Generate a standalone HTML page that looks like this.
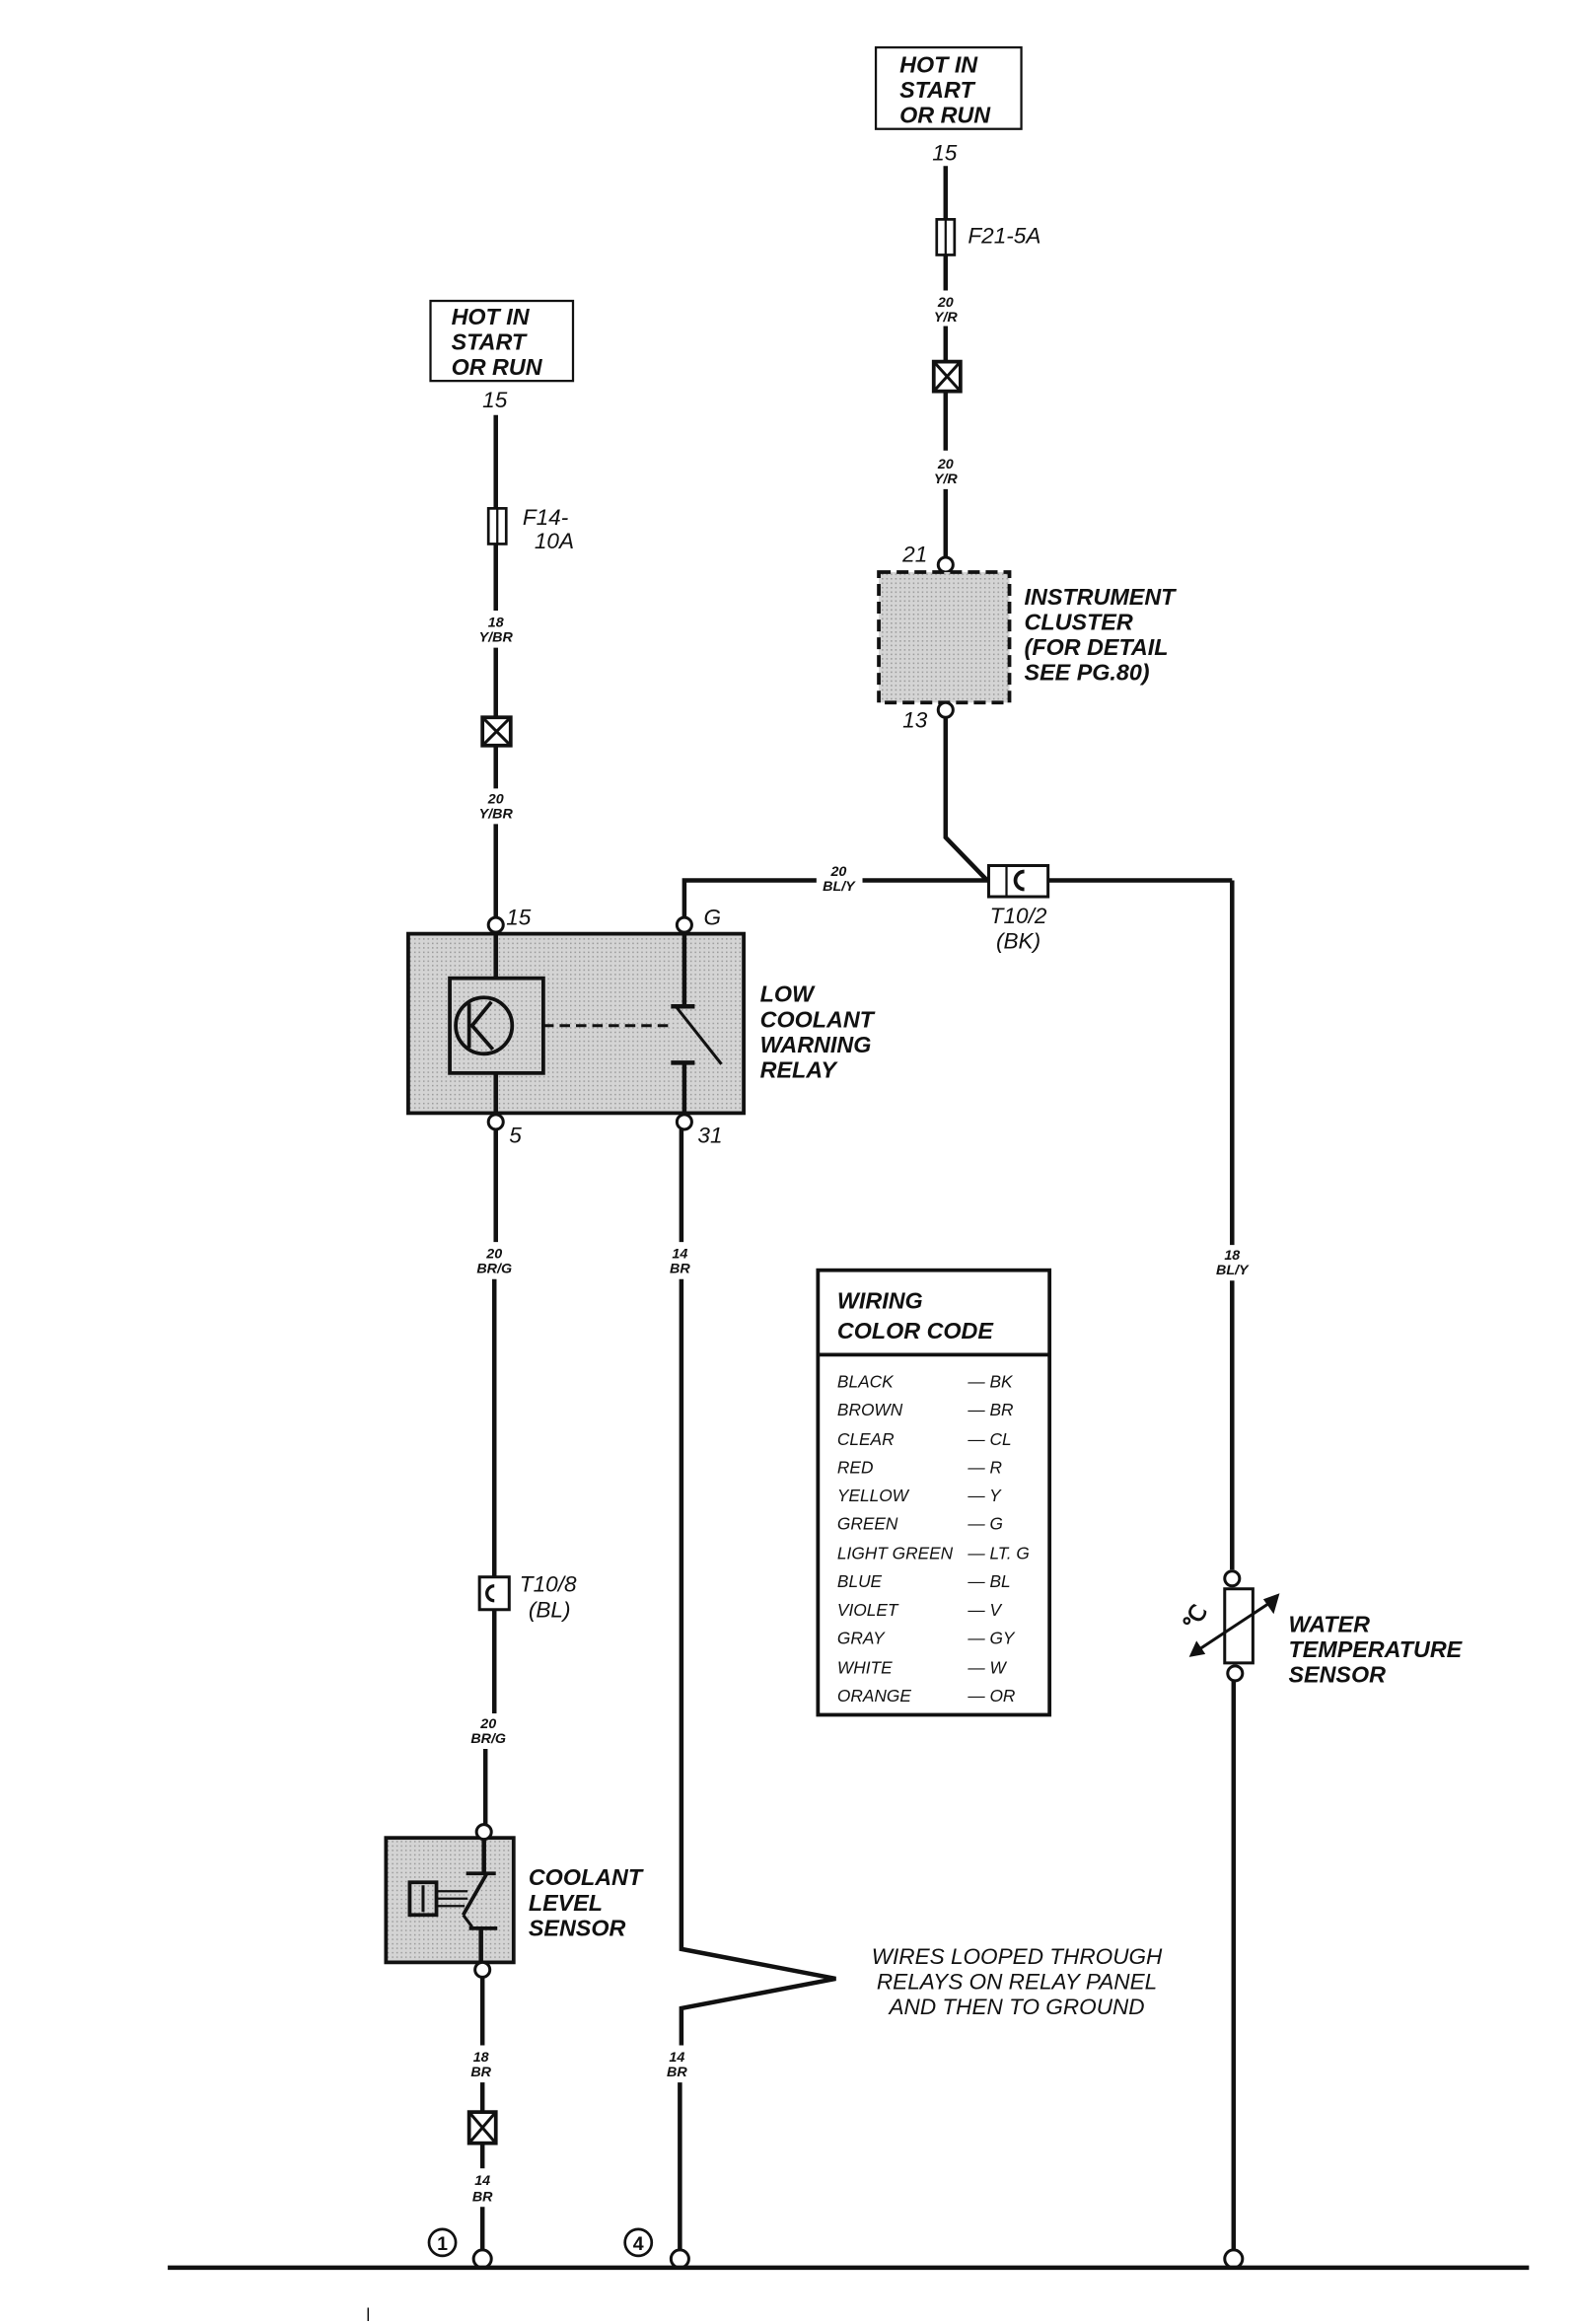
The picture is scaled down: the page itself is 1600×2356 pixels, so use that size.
<!DOCTYPE html>
<html><head><meta charset="utf-8"><style>
html,body{margin:0;padding:0;background:#fff}
svg{display:block}
text{font-family:"Liberation Sans",Arial,sans-serif;fill:#111}
.b{font-weight:bold;font-style:italic;font-size:15.5px}
.i{font-style:italic;font-size:15px}
.s{font-weight:bold;font-style:italic;font-size:9.5px}
.l{font-style:italic;font-size:11.5px}
.w{stroke:#111;stroke-width:3;fill:none}
</style></head><body>
<svg width="1600" height="2356" viewBox="0 0 1063 1568" preserveAspectRatio="none" xmlns="http://www.w3.org/2000/svg">
<defs>
<pattern id="g" width="3" height="3" patternUnits="userSpaceOnUse"><rect width="3" height="3" fill="#d4d4d4"/><rect width="1" height="1" fill="#9a9a9a"/></pattern>
</defs>
<rect x="590" y="32" width="98" height="55" fill="#fff" stroke="#111" stroke-width="1.5"/>
<text class="b" x="606" y="49">HOT IN</text><text class="b" x="606" y="66">START</text><text class="b" x="606" y="83">OR RUN</text>
<text class="i" x="628" y="108">15</text>
<line class="w" x1="637" y1="112" x2="637" y2="148"/>
<rect x="631" y="148" width="12" height="24" fill="#fff" stroke="#111" stroke-width="1.8"/>
<line x1="637" y1="148" x2="637" y2="172" stroke="#111" stroke-width="1.5"/>
<text class="i" x="652" y="164">F21-5A</text>
<line class="w" x1="637" y1="172" x2="637" y2="196"/>
<text class="s" x="637" y="207" text-anchor="middle">20</text><text class="s" x="637" y="217" text-anchor="middle">Y/R</text>
<line class="w" x1="637" y1="220" x2="637" y2="244"/>
<rect x="629" y="244" width="18" height="20" fill="#fff" stroke="#111" stroke-width="2.5"/>
<path d="M629 244L647 264M647 244L629 264" stroke="#111" stroke-width="2"/>
<line class="w" x1="637" y1="264" x2="637" y2="304"/>
<text class="s" x="637" y="316" text-anchor="middle">20</text><text class="s" x="637" y="326" text-anchor="middle">Y/R</text>
<line class="w" x1="637" y1="330" x2="637" y2="376"/>
<circle cx="637" cy="381" r="5" fill="#fff" stroke="#111" stroke-width="2"/>
<text class="i" x="608" y="379">21</text>
<rect x="592" y="386" width="88" height="88" fill="url(#g)" stroke="#111" stroke-width="2.5" stroke-dasharray="8,4"/>
<text class="b" x="690" y="408">INSTRUMENT</text><text class="b" x="690" y="425">CLUSTER</text><text class="b" x="690" y="442">(FOR DETAIL</text><text class="b" x="690" y="459">SEE PG.80)</text>
<circle cx="637" cy="479" r="5" fill="#fff" stroke="#111" stroke-width="2"/>
<text class="i" x="608" y="491">13</text>
<polyline class="w" points="637,484 637,565 665,594"/>
<rect x="666" y="584" width="40" height="21" fill="#fff" stroke="#111" stroke-width="2"/>
<line x1="678" y1="584" x2="678" y2="605" stroke="#111" stroke-width="1.5"/>
<path d="M690 588 A6 6 0 1 0 690 600" fill="none" stroke="#111" stroke-width="2.5"/>
<text class="i" x="686" y="623" text-anchor="middle">T10/2</text><text class="i" x="686" y="640" text-anchor="middle">(BK)</text>
<polyline class="w" points="461,620 461,594 550,594"/>
<line class="w" x1="581" y1="594" x2="666" y2="594"/>
<line class="w" x1="706" y1="594" x2="830" y2="594"/>
<text class="s" x="565" y="591" text-anchor="middle">20</text><text class="s" x="565" y="601" text-anchor="middle">BL/Y</text>
<line class="w" x1="830" y1="594" x2="830" y2="840"/>
<text class="s" x="830" y="850" text-anchor="middle">18</text><text class="s" x="830" y="860" text-anchor="middle">BL/Y</text>
<line class="w" x1="830" y1="864" x2="830" y2="1059"/>
<circle cx="830" cy="1065" r="5" fill="#fff" stroke="#111" stroke-width="2"/>
<rect x="825" y="1072" width="19" height="50" fill="#fff" stroke="#111" stroke-width="2"/>
<circle cx="832" cy="1129" r="5" fill="#fff" stroke="#111" stroke-width="2"/>
<line x1="806" y1="1114" x2="856" y2="1081" stroke="#111" stroke-width="2"/>
<polygon points="801,1118 806,1107 812,1116" fill="#111"/>
<polygon points="862,1075 851,1079 858,1089" fill="#111"/>
<text x="797" y="1099" style="font-weight:bold;font-size:15px" transform="rotate(-60 803 1093)">℃</text>
<text class="b" x="868" y="1101">WATER</text><text class="b" x="868" y="1118">TEMPERATURE</text><text class="b" x="868" y="1135">SENSOR</text>
<line class="w" x1="831" y1="1134" x2="831" y2="1519"/>
<circle cx="831" cy="1524" r="6" fill="#fff" stroke="#111" stroke-width="2"/>
<rect x="551" y="857" width="156" height="300" fill="#fff" stroke="#111" stroke-width="2.5"/>
<line x1="551" y1="914" x2="707" y2="914" stroke="#111" stroke-width="2.5"/>
<text class="b" x="564" y="883">WIRING</text><text class="b" x="564" y="903">COLOR CODE</text>
<text class="l" x="564" y="936">BLACK</text><text class="l" x="652" y="936">— BK</text>
<text class="l" x="564" y="955">BROWN</text><text class="l" x="652" y="955">— BR</text>
<text class="l" x="564" y="975">CLEAR</text><text class="l" x="652" y="975">— CL</text>
<text class="l" x="564" y="994">RED</text><text class="l" x="652" y="994">— R</text>
<text class="l" x="564" y="1013">YELLOW</text><text class="l" x="652" y="1013">— Y</text>
<text class="l" x="564" y="1032">GREEN</text><text class="l" x="652" y="1032">— G</text>
<text class="l" x="564" y="1052">LIGHT GREEN</text><text class="l" x="652" y="1052">— LT. G</text>
<text class="l" x="564" y="1071">BLUE</text><text class="l" x="652" y="1071">— BL</text>
<text class="l" x="564" y="1090">VIOLET</text><text class="l" x="652" y="1090">— V</text>
<text class="l" x="564" y="1109">GRAY</text><text class="l" x="652" y="1109">— GY</text>
<text class="l" x="564" y="1129">WHITE</text><text class="l" x="652" y="1129">— W</text>
<text class="l" x="564" y="1148">ORANGE</text><text class="l" x="652" y="1148">— OR</text>
<rect x="290" y="203" width="96" height="54" fill="#fff" stroke="#111" stroke-width="1.5"/>
<text class="b" x="304" y="219">HOT IN</text><text class="b" x="304" y="236">START</text><text class="b" x="304" y="253">OR RUN</text>
<text class="i" x="325" y="275">15</text>
<line class="w" x1="334" y1="280" x2="334" y2="343"/>
<rect x="329" y="343" width="12" height="24" fill="#fff" stroke="#111" stroke-width="1.8"/>
<line x1="335" y1="343" x2="335" y2="367" stroke="#111" stroke-width="1.5"/>
<text class="i" x="352" y="354">F14-</text><text class="i" x="360" y="370">10A</text>
<line class="w" x1="334" y1="367" x2="334" y2="412"/>
<text class="s" x="334" y="423" text-anchor="middle">18</text><text class="s" x="334" y="433" text-anchor="middle">Y/BR</text>
<line class="w" x1="334" y1="437" x2="334" y2="484"/>
<rect x="325" y="484" width="19" height="19" fill="#fff" stroke="#111" stroke-width="2.5"/>
<path d="M325 484L344 503M344 484L325 503" stroke="#111" stroke-width="2"/>
<line class="w" x1="334" y1="503" x2="334" y2="532"/>
<text class="s" x="334" y="542" text-anchor="middle">20</text><text class="s" x="334" y="552" text-anchor="middle">Y/BR</text>
<line class="w" x1="334" y1="556" x2="334" y2="619"/>
<rect x="275" y="630" width="226" height="121" fill="url(#g)" stroke="#111" stroke-width="2.5"/>
<circle cx="334" cy="624" r="5" fill="#fff" stroke="#111" stroke-width="2"/>
<circle cx="461" cy="624" r="5" fill="#fff" stroke="#111" stroke-width="2"/>
<text class="i" x="341" y="624">15</text><text class="i" x="474" y="624">G</text>
<line class="w" x1="334" y1="629" x2="334" y2="660"/>
<rect x="303" y="660" width="63" height="64" fill="none" stroke="#111" stroke-width="2.5"/>
<circle cx="326" cy="692" r="19" fill="none" stroke="#111" stroke-width="2.5"/>
<path d="M316 677 L316 707 M331 676 L318 692 L332 708" fill="none" stroke="#111" stroke-width="2.5"/>
<line x1="366" y1="692" x2="453" y2="692" stroke="#111" stroke-width="2" stroke-dasharray="7,4"/>
<line class="w" x1="334" y1="724" x2="334" y2="752"/>
<line class="w" x1="461" y1="629" x2="461" y2="679"/>
<line x1="452" y1="679" x2="468" y2="679" stroke="#111" stroke-width="3"/>
<line x1="456" y1="680" x2="486" y2="718" stroke="#111" stroke-width="2"/>
<line x1="452" y1="717" x2="468" y2="717" stroke="#111" stroke-width="3"/>
<line class="w" x1="461" y1="717" x2="461" y2="752"/>
<circle cx="334" cy="757" r="5" fill="#fff" stroke="#111" stroke-width="2"/>
<circle cx="461" cy="757" r="5" fill="#fff" stroke="#111" stroke-width="2"/>
<text class="i" x="343" y="771">5</text><text class="i" x="470" y="771">31</text>
<text class="b" x="512" y="676">LOW</text><text class="b" x="512" y="693">COOLANT</text><text class="b" x="512" y="710">WARNING</text><text class="b" x="512" y="727">RELAY</text>
<line class="w" x1="334" y1="762" x2="334" y2="838"/>
<text class="s" x="333" y="849" text-anchor="middle">20</text><text class="s" x="333" y="859" text-anchor="middle">BR/G</text>
<line class="w" x1="333" y1="863" x2="333" y2="1064"/>
<rect x="323" y="1064" width="20" height="22" fill="#fff" stroke="#111" stroke-width="2"/>
<path d="M333 1070 A5 5 0 1 0 333 1080" fill="none" stroke="#111" stroke-width="2.2"/>
<text class="i" x="350" y="1074">T10/8</text><text class="i" x="356" y="1091">(BL)</text>
<line class="w" x1="333" y1="1086" x2="333" y2="1156"/>
<text class="s" x="329" y="1166" text-anchor="middle">20</text><text class="s" x="329" y="1176" text-anchor="middle">BR/G</text>
<line class="w" x1="327" y1="1180" x2="327" y2="1231"/>
<rect x="260" y="1240" width="86" height="84" fill="url(#g)" stroke="#111" stroke-width="2.5"/>
<circle cx="326" cy="1236" r="5" fill="#fff" stroke="#111" stroke-width="2"/>
<line class="w" x1="326" y1="1241" x2="326" y2="1264"/>
<line x1="314" y1="1264" x2="334" y2="1264" stroke="#111" stroke-width="2.5"/>
<line x1="328" y1="1264" x2="312" y2="1292" stroke="#111" stroke-width="2.5"/>
<line x1="312" y1="1292" x2="318" y2="1300" stroke="#111" stroke-width="2"/>
<line x1="316" y1="1301" x2="335" y2="1301" stroke="#111" stroke-width="2.5"/>
<line class="w" x1="324" y1="1301" x2="324" y2="1324"/>
<rect x="276" y="1270" width="18" height="22" fill="none" stroke="#111" stroke-width="2.5"/>
<line x1="285" y1="1272" x2="285" y2="1290" stroke="#111" stroke-width="2"/>
<path d="M294 1276H315M294 1281H315M294 1286H313" stroke="#111" stroke-width="1.5"/>
<circle cx="325" cy="1329" r="5" fill="#fff" stroke="#111" stroke-width="2"/>
<text class="b" x="356" y="1272">COOLANT</text><text class="b" x="356" y="1289">LEVEL</text><text class="b" x="356" y="1306">SENSOR</text>
<line class="w" x1="325" y1="1334" x2="325" y2="1380"/>
<text class="s" x="324" y="1391" text-anchor="middle">18</text><text class="s" x="324" y="1401" text-anchor="middle">BR</text>
<line class="w" x1="325" y1="1405" x2="325" y2="1425"/>
<rect x="316" y="1425" width="18" height="21" fill="#fff" stroke="#111" stroke-width="2.5"/>
<path d="M316 1425L334 1446M334 1425L316 1446" stroke="#111" stroke-width="2"/>
<line class="w" x1="325" y1="1446" x2="325" y2="1463"/>
<text class="s" x="325" y="1474" text-anchor="middle">14</text><text class="s" x="325" y="1485" text-anchor="middle">BR</text>
<line class="w" x1="325" y1="1489" x2="325" y2="1518"/>
<circle cx="325" cy="1524" r="6" fill="#fff" stroke="#111" stroke-width="2"/>
<circle cx="298" cy="1513" r="9" fill="#fff" stroke="#111" stroke-width="1.8"/>
<text x="298" y="1518" text-anchor="middle" style="font-weight:bold;font-size:13px">1</text>
<line class="w" x1="459" y1="762" x2="459" y2="838"/>
<text class="s" x="458" y="849" text-anchor="middle">14</text><text class="s" x="458" y="859" text-anchor="middle">BR</text>
<polyline class="w" points="459,863 459,1315 563,1335 459,1355 459,1380"/>
<text class="s" x="456" y="1391" text-anchor="middle">14</text><text class="s" x="456" y="1401" text-anchor="middle">BR</text>
<line class="w" x1="458" y1="1405" x2="458" y2="1518"/>
<circle cx="458" cy="1524" r="6" fill="#fff" stroke="#111" stroke-width="2"/>
<circle cx="430" cy="1513" r="9" fill="#fff" stroke="#111" stroke-width="1.8"/>
<text x="430" y="1518" text-anchor="middle" style="font-weight:bold;font-size:13px">4</text>
<text class="i" x="685" y="1325" text-anchor="middle">WIRES LOOPED THROUGH</text>
<text class="i" x="685" y="1342" text-anchor="middle">RELAYS ON RELAY PANEL</text>
<text class="i" x="685" y="1359" text-anchor="middle">AND THEN TO GROUND</text>
<line x1="113" y1="1530" x2="1030" y2="1530" stroke="#111" stroke-width="3"/>
<line x1="248" y1="1557" x2="248" y2="1566" stroke="#111" stroke-width="1"/>
</svg>
</body></html>
